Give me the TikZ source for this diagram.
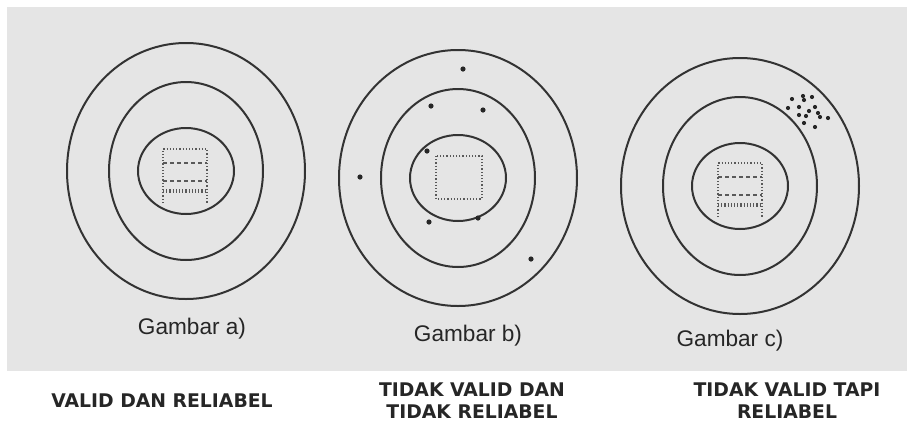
\documentclass[tikz,border=0pt]{standalone}
\usepackage{fontspec}
\setmainfont{Liberation Sans}
\newfontfamily\capfont{DejaVu Sans}
\tikzset{
    ring/.style={line width=1pt, draw=black!80},
    grid line/.style={line width=0.6pt, draw=black!65, densely dotted},
    shot/.style={fill=black!85},
    figlabel/.style={font=\fontsize{11.3}{13}\selectfont, text=black!85},
    verdict/.style={font=\capfont\bfseries\fontsize{9.4}{11}\selectfont, align=center, text=black!85}
}
\begin{document}
\begin{tikzpicture}[x=0.5pt,y=-0.5pt]
    \useasboundingbox (0,0) rectangle (907,424);
    \fill[white] (0,0) rectangle (907,424);
    \fill[black!10] (7,7) rectangle (907,371);

    % three targets, centre x / centre y
    \foreach \cx / \cy in {186/171, 458/178, 740/186}
    {
        \draw[ring] (\cx,\cy) ellipse [x radius=119, y radius=128];
        \draw[ring] (\cx,\cy) ellipse [x radius=77, y radius=89];
        \draw[ring] (\cx,\cy) ellipse [x radius=48, y radius=43];
    }

    % bull's-eye with rows (a and c)
    \foreach \cx / \cy in {185/171, 740/185}
    {
        \draw[grid line] (\cx-22,\cy+32) -- (\cx-22,\cy-22) -- (\cx+22,\cy-22) -- (\cx+22,\cy+32);
        \draw[grid line, dash pattern=on 2pt off 1.5pt] (\cx-22,\cy-8) -- (\cx+22,\cy-8);
        \draw[grid line, dash pattern=on 2pt off 1.5pt] (\cx-22,\cy+10) -- (\cx+22,\cy+10);
        \draw[grid line] (\cx-22,\cy+19) -- (\cx+22,\cy+19);
        \draw[grid line] (\cx-22,\cy+21) -- (\cx+22,\cy+21);
    }
    % empty bull's-eye (b)
    \draw[grid line] (436,156) rectangle (482,199);

    % scattered shots (b)
    \foreach \x / \y in {463/69, 431/106, 483/110, 427/151, 360/177, 429/222, 478/218, 531/259}
    {
        \fill[shot] (\x,\y) circle (2.6);
    }
    % clustered shots (c)
    \foreach \x / \y in {792/99, 803/96, 804/100, 812/97, 788/108, 799/107, 815/107, 809/111,
                         818/113, 828/118, 799/115, 806/116, 804/123, 815/127, 820/117}
    {
        \fill[shot] (\x,\y) circle (2.1);
    }

    \node[figlabel] (gambarA) at (192,329) {Gambar a)};
    \node[figlabel] (gambarB) at (468,336) {Gambar b)};
    \node[figlabel] (gambarC) at (730,341) {Gambar c)};

    \node[verdict] (validA) at (162,401) {VALID DAN RELIABEL};
    \node[verdict] (validB) at (472,401) {TIDAK VALID DAN\\TIDAK RELIABEL};
    \node[verdict] (validC) at (787,401) {TIDAK VALID TAPI\\RELIABEL};
\end{tikzpicture}
\end{document}
